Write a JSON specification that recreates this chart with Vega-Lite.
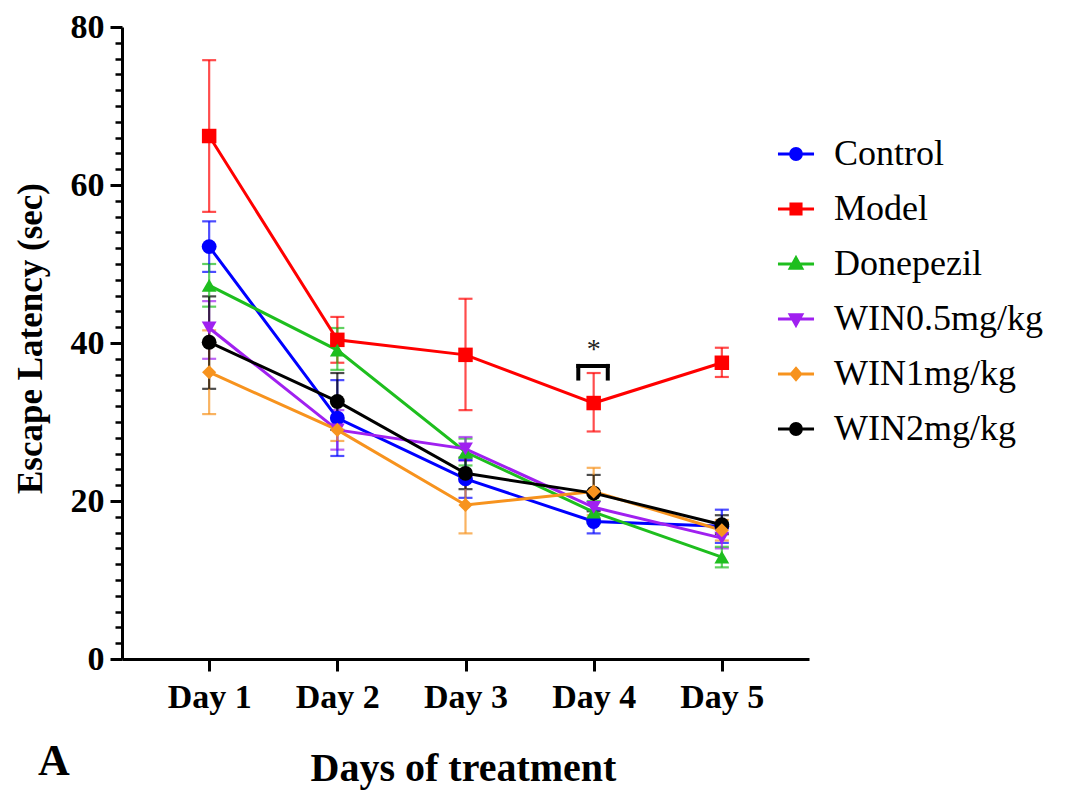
{
  "$schema": "https://vega.github.io/schema/vega-lite/v6.json",
  "autosize": {"type": "none"},
  "width": 687,
  "height": 632,
  "padding": {"left": 122, "top": 27, "right": 263, "bottom": 133},
  "background": "white",
  "config": {
    "view": {"stroke": null},
    "font": "Liberation Serif",
    "axis": {"grid": false, "domainColor": "black", "tickColor": "black", "labelColor": "black", "titleColor": "black"}
  },
  "title": {"text": "A", "orient": "bottom", "anchor": "start", "font": "Liberation Serif", "fontSize": 44, "fontWeight": "bold", "color": "black", "dx": 25, "dy": -48, "offset": 0},
  "datasets": {
    "series": [
      {"group": "Control", "day": 1, "mean": 52.2, "lo": 49.0, "hi": 55.4},
      {"group": "Control", "day": 2, "mean": 30.5, "lo": 25.7, "hi": 35.3},
      {"group": "Control", "day": 3, "mean": 22.8, "lo": 20.4, "hi": 25.2},
      {"group": "Control", "day": 4, "mean": 17.4, "lo": 15.9, "hi": 18.9},
      {"group": "Control", "day": 5, "mean": 16.8, "lo": 14.7, "hi": 18.9},
      {"group": "Model", "day": 1, "mean": 66.2, "lo": 56.6, "hi": 75.8},
      {"group": "Model", "day": 2, "mean": 40.4, "lo": 37.5, "hi": 43.3},
      {"group": "Model", "day": 3, "mean": 38.5, "lo": 31.5, "hi": 45.6},
      {"group": "Model", "day": 4, "mean": 32.4, "lo": 28.8, "hi": 36.2},
      {"group": "Model", "day": 5, "mean": 37.5, "lo": 35.7, "hi": 39.4},
      {"group": "Donepezil", "day": 1, "mean": 47.3, "lo": 44.6, "hi": 50.0},
      {"group": "Donepezil", "day": 2, "mean": 39.1, "lo": 36.6, "hi": 41.9},
      {"group": "Donepezil", "day": 3, "mean": 26.2, "lo": 24.5, "hi": 27.9},
      {"group": "Donepezil", "day": 4, "mean": 18.6, "lo": 17.2, "hi": 20.0},
      {"group": "Donepezil", "day": 5, "mean": 12.9, "lo": 11.6, "hi": 14.2},
      {"group": "WIN0.5mg/kg", "day": 1, "mean": 41.9, "lo": 38.0, "hi": 45.3},
      {"group": "WIN0.5mg/kg", "day": 2, "mean": 29.0, "lo": 26.5, "hi": 31.5},
      {"group": "WIN0.5mg/kg", "day": 3, "mean": 26.6, "lo": 25.1, "hi": 28.1},
      {"group": "WIN0.5mg/kg", "day": 4, "mean": 19.2, "lo": 17.5, "hi": 20.9},
      {"group": "WIN0.5mg/kg", "day": 5, "mean": 15.3, "lo": 14.0, "hi": 16.6},
      {"group": "WIN1mg/kg", "day": 1, "mean": 36.3, "lo": 31.0, "hi": 41.6},
      {"group": "WIN1mg/kg", "day": 2, "mean": 29.0, "lo": 27.6, "hi": 30.4},
      {"group": "WIN1mg/kg", "day": 3, "mean": 19.5, "lo": 15.9, "hi": 23.1},
      {"group": "WIN1mg/kg", "day": 4, "mean": 21.2, "lo": 18.2, "hi": 24.2},
      {"group": "WIN1mg/kg", "day": 5, "mean": 16.3, "lo": 15.0, "hi": 17.6},
      {"group": "WIN2mg/kg", "day": 1, "mean": 40.1, "lo": 34.2, "hi": 45.9},
      {"group": "WIN2mg/kg", "day": 2, "mean": 32.6, "lo": 29.0, "hi": 36.2},
      {"group": "WIN2mg/kg", "day": 3, "mean": 23.5, "lo": 21.5, "hi": 25.5},
      {"group": "WIN2mg/kg", "day": 4, "mean": 21.0, "lo": 18.7, "hi": 23.3},
      {"group": "WIN2mg/kg", "day": 5, "mean": 17.0, "lo": 15.8, "hi": 18.2}
    ],
    "bracket": [
      {"x": 3.88, "x2": 4.11, "y": 37.1, "y2": 37.1},
      {"x": 3.88, "x2": 3.88, "y": 37.1, "y2": 35.5},
      {"x": 4.11, "x2": 4.11, "y": 37.1, "y2": 35.5}
    ],
    "star": [
      {"x": 4.0, "y": 37.4, "label": "*"}
    ]
  },
  "layer": [
    {
      "data": {"name": "bracket"},
      "mark": {"type": "rule", "color": "black", "strokeWidth": 4, "strokeCap": "square"},
      "encoding": {
        "x": {"field": "x", "type": "quantitative", "scale": {"domain": [0.32, 5.68], "nice": false, "zero": false},
          "axis": {"values": [1, 2, 3, 4, 5], "labelExpr": "'Day ' + datum.value", "domainWidth": 3, "tickWidth": 3, "tickSize": 12, "labelFontSize": 34, "labelFontWeight": "bold", "labelFont": "Liberation Serif", "labelPadding": 9, "title": "Days of treatment", "titleFont": "Liberation Serif", "titleFontSize": 40, "titleFontWeight": "bold", "titleX": 341, "titleY": 121, "titleBaseline": "alphabetic", "titleAnchor": "middle", "titleAlign": "center"}},
        "x2": {"field": "x2"},
        "y": {"field": "y", "type": "quantitative", "scale": {"domain": [0, 80], "nice": false},
          "axis": {"orient": "left", "values": [0, 20, 40, 60, 80], "domainWidth": 3, "tickWidth": 3, "tickSize": 12, "labelFontSize": 34, "labelFontWeight": "bold", "labelFont": "Liberation Serif", "labelPadding": 6, "title": "Escape Latency (sec)", "titleFont": "Liberation Serif", "titleFontSize": 35, "titleFontWeight": "bold", "titleX": -92, "titleY": 311, "titleAngle": -90, "titleAlign": "center", "titleBaseline": "middle"}},
        "y2": {"field": "y2"}
      }
    },
    {
      "data": {"name": "star"},
      "mark": {"type": "text", "fontSize": 28, "color": "#222222", "baseline": "bottom", "font": "Liberation Serif"},
      "encoding": {
        "x": {"field": "x", "type": "quantitative"},
        "y": {"field": "y", "type": "quantitative",
          "axis": {"orient": "left", "values": [2,4,6,8,10,12,14,16,18,22,24,26,28,30,32,34,36,38,42,44,46,48,50,52,54,56,58,62,64,66,68,70,72,74,76,78], "labels": false, "domain": false, "tickWidth": 2.5, "tickSize": 7, "title": null}},
        "text": {"field": "label"}
      }
    },
    {
      "data": {"name": "series"},
      "mark": {"type": "errorbar", "ticks": {"size": 14, "thickness": 2.2}, "rule": {"strokeWidth": 2.2}, "opacity": 0.7},
      "encoding": {
        "x": {"field": "day", "type": "quantitative"},
        "y": {"field": "lo", "type": "quantitative", "axis": null},
        "y2": {"field": "hi"},
        "color": {"field": "group", "type": "nominal"}
      }
    },
    {
      "data": {"name": "series"},
      "mark": {"type": "line", "strokeWidth": 3},
      "encoding": {
        "x": {"field": "day", "type": "quantitative"},
        "y": {"field": "mean", "type": "quantitative", "axis": null},
        "color": {"field": "group", "type": "nominal",
          "scale": {"domain": ["Control", "Model", "Donepezil", "WIN0.5mg/kg", "WIN1mg/kg", "WIN2mg/kg"], "range": ["#0000FF", "#FF0000", "#1EBE1E", "#A020F0", "#F7931E", "#000000"]},
          "legend": {"orient": "none", "legendX": 654, "legendY": 107, "title": null, "padding": 0, "labelFont": "Liberation Serif", "labelFontSize": 36, "labelColor": "black", "labelOffset": 18, "labelLimit": 400, "rowPadding": 17, "symbolSize": 1300, "symbolStrokeWidth": 3, "symbolOpacity": 1,
            "encode": {"symbols": {"update": {
              "shape": {"signal": "(datum.value === 'Control' || datum.value === 'WIN2mg/kg') ? 'M-1,0H1M0.3,0A0.3,0.3,0,1,1,-0.3,0A0.3,0.3,0,1,1,0.3,0Z' : datum.value === 'Model' ? 'M-1,0H1M-0.28,-0.28H0.28V0.28H-0.28Z' : datum.value === 'Donepezil' ? 'M-1,0H1M0,-0.34L0.32,0.24H-0.32Z' : datum.value === 'WIN0.5mg/kg' ? 'M-1,0H1M0,0.34L0.32,-0.24H-0.32Z' : 'M-1,0H1M0,-0.3L0.26,0L0,0.3L-0.26,0Z'"},
              "fill": {"signal": "scale('color', datum.value)"},
              "stroke": {"signal": "scale('color', datum.value)"},
              "strokeWidth": {"value": 3},
              "opacity": {"value": 1}
            }}}}
        }
      }
    },
    {
      "data": {"name": "series"},
      "transform": [{"filter": {"field": "group", "oneOf": ["Control", "WIN2mg/kg"]}}],
      "mark": {"type": "point", "filled": true, "size": 220, "opacity": 1, "shape": "circle"},
      "encoding": {
        "x": {"field": "day", "type": "quantitative"},
        "y": {"field": "mean", "type": "quantitative", "axis": null},
        "color": {"field": "group", "type": "nominal"}
      }
    },
    {
      "data": {"name": "series"},
      "transform": [{"filter": {"field": "group", "equal": "Model"}}],
      "mark": {"type": "point", "filled": true, "size": 210, "opacity": 1, "shape": "square"},
      "encoding": {
        "x": {"field": "day", "type": "quantitative"},
        "y": {"field": "mean", "type": "quantitative", "axis": null},
        "color": {"field": "group", "type": "nominal"}
      }
    },
    {
      "data": {"name": "series"},
      "transform": [{"filter": {"field": "group", "equal": "Donepezil"}}],
      "mark": {"type": "point", "filled": true, "size": 220, "opacity": 1, "shape": "triangle-up"},
      "encoding": {
        "x": {"field": "day", "type": "quantitative"},
        "y": {"field": "mean", "type": "quantitative", "axis": null},
        "color": {"field": "group", "type": "nominal"}
      }
    },
    {
      "data": {"name": "series"},
      "transform": [{"filter": {"field": "group", "equal": "WIN0.5mg/kg"}}],
      "mark": {"type": "point", "filled": true, "size": 220, "opacity": 1, "shape": "triangle-down"},
      "encoding": {
        "x": {"field": "day", "type": "quantitative"},
        "y": {"field": "mean", "type": "quantitative", "axis": null},
        "color": {"field": "group", "type": "nominal"}
      }
    },
    {
      "data": {"name": "series"},
      "transform": [{"filter": {"field": "group", "equal": "WIN1mg/kg"}}],
      "mark": {"type": "point", "filled": true, "size": 200, "opacity": 1, "shape": "diamond"},
      "encoding": {
        "x": {"field": "day", "type": "quantitative"},
        "y": {"field": "mean", "type": "quantitative", "axis": null},
        "color": {"field": "group", "type": "nominal"}
      }
    }
  ],
  "resolve": {"axis": {"y": "independent"}}
}
